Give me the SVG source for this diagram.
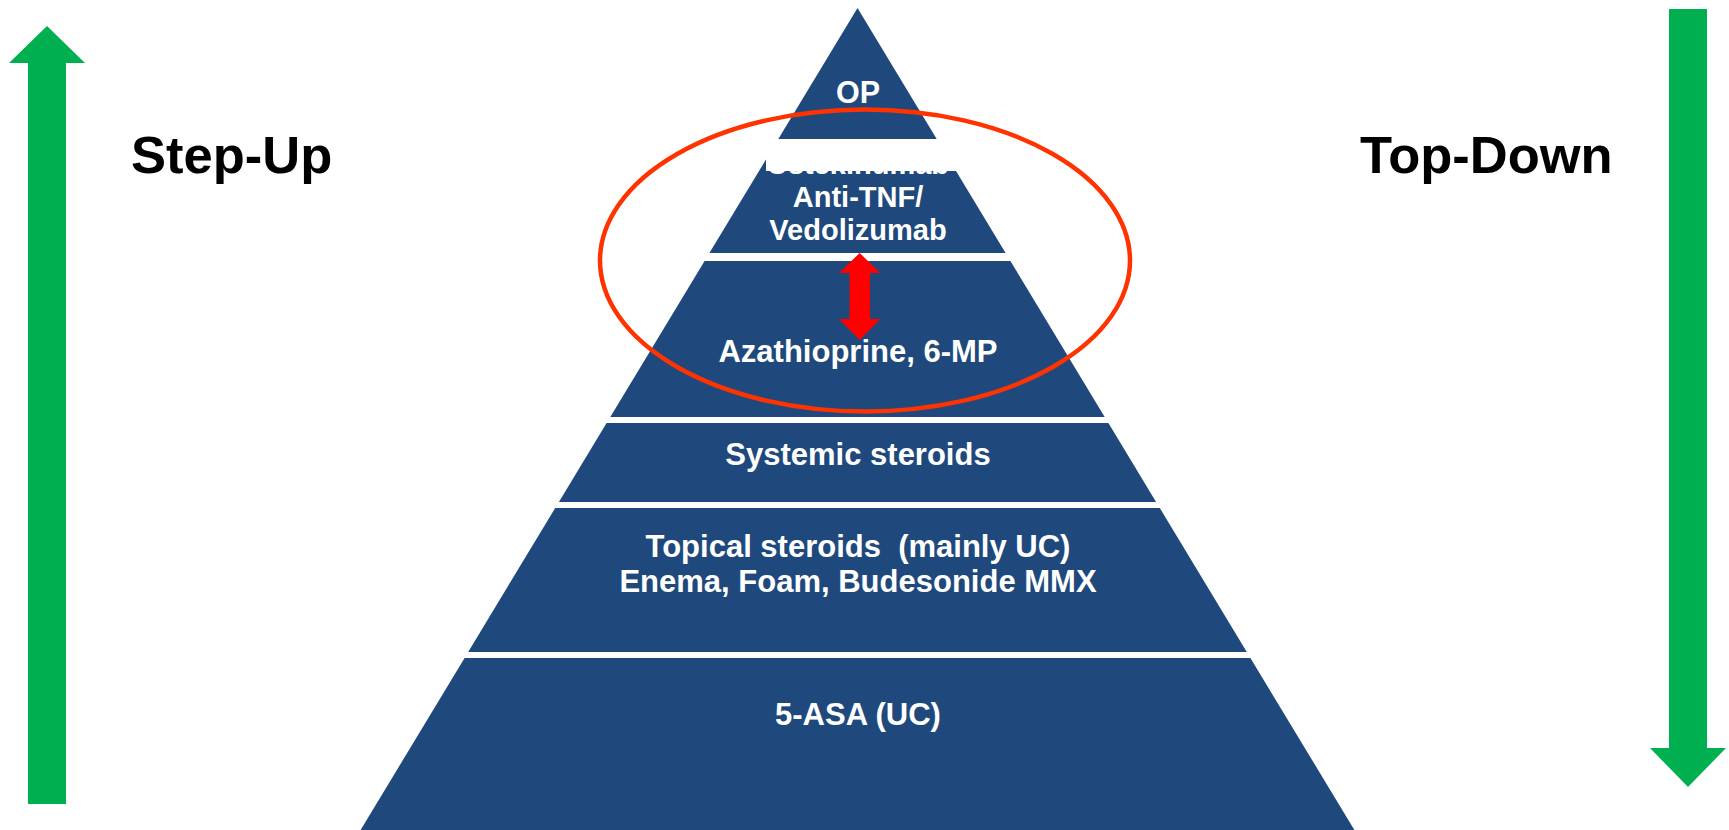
<svg xmlns="http://www.w3.org/2000/svg" width="1729" height="830" viewBox="0 0 1729 830">
<style>
.tier{fill:#1F497D}
.t{font-family:"Liberation Sans",Arial,sans-serif;font-weight:bold;fill:#fff;text-anchor:middle}
.lbl{font-family:"Liberation Sans",Arial,sans-serif;font-weight:bold;fill:#000;font-size:52.5px}
.green{fill:#00B050}
</style>
<rect width="1729" height="830" fill="#fff"/>
<g id="tier-op">
<polygon class="tier" points="857.5,8 936.7,139 778.3,139"/>
<text class="t" x="858" y="103" font-size="30.5">OP</text>
</g>
<g id="tier-biologics">
<polygon class="tier" points="773.5,147 941.5,147 1005.6,253 709.4,253"/>
<text class="t" x="858" y="174" font-size="29">Ustekinumab</text>
<rect x="766" y="139" width="191" height="32" fill="#fff"/>
<text class="t" x="858" y="207" font-size="29">Anti-TNF/</text>
<text class="t" x="858" y="240" font-size="29">Vedolizumab</text>
</g>
<g id="tier-aza">
<polygon class="tier" points="704.6,261 1010.4,261 1104.7,417 610.3,417"/>
<text class="t" x="858" y="362" font-size="31">Azathioprine, 6-MP</text>
</g>
<g id="tier-systemic">
<polygon class="tier" points="606.6,423 1108.4,423 1156.1,502 558.9,502"/>
<text class="t" x="858" y="465" font-size="31">Systemic steroids</text>
</g>
<g id="tier-topical">
<polygon class="tier" points="555.2,508 1159.8,508 1246.8,652 468.2,652"/>
<text class="t" x="858" y="557" font-size="31" xml:space="preserve">Topical steroids  (mainly UC)</text>
<text class="t" x="858" y="592" font-size="31">Enema, Foam, Budesonide MMX</text>
</g>
<g id="tier-5asa">
<polygon class="tier" points="464.6,658 1250.4,658 1354.4,830 360.6,830"/>
<text class="t" x="858" y="725" font-size="31">5-ASA (UC)</text>
</g>
<g id="connectors">
<polygon fill="#FF0000" points="859.7,253 880.4,273 870,273 870,319 880.4,319 859.7,340 839,319 849.6,319 849.6,273 839,273"/>
<ellipse cx="865" cy="260.5" rx="265" ry="151" fill="none" stroke="#FF3300" stroke-width="4.5"/>
</g>
<g id="step-up">
<polygon class="green" points="47,26 85,63 66,63 66,804 28,804 28,63 9,63"/>
<text class="lbl" x="131" y="173">Step-Up</text>
</g>
<g id="top-down">
<polygon class="green" points="1669,9 1707,9 1707,748 1726,748 1688,787 1650,748 1669,748"/>
<text class="lbl" x="1360" y="173">Top-Down</text>
</g>
</svg>
